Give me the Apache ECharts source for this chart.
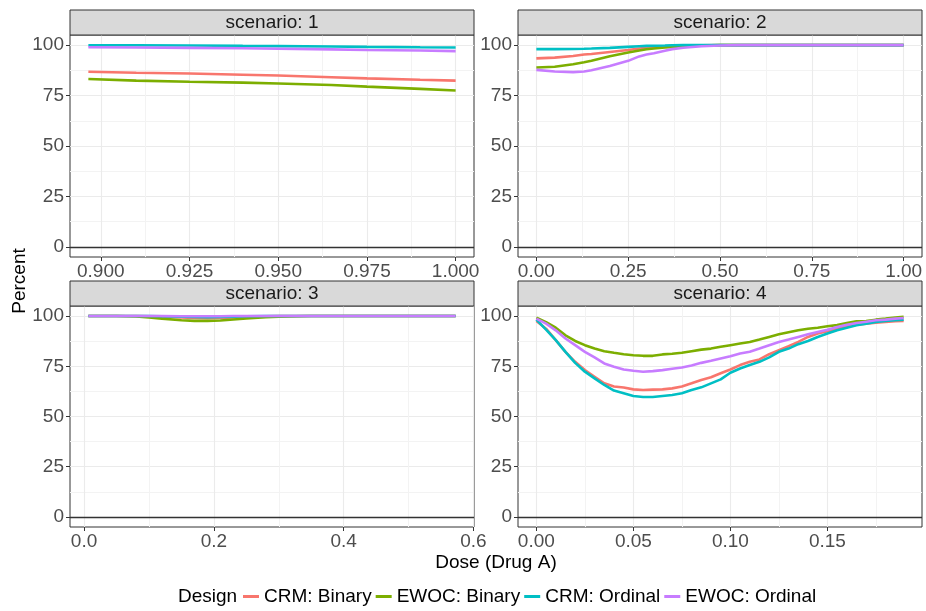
<!DOCTYPE html>
<html>
<head>
<meta charset="utf-8">
<script src="https://cdn.jsdelivr.net/npm/echarts@6/dist/echarts.min.js"></script>
<style>
  html, body { margin: 0; padding: 0; background: #fff; }
  #chart { width: 926px; height: 611px; }
</style>
</head>
<body>
<div id="chart"></div>
<script>
const designs = ['CRM: Binary', 'EWOC: Binary', 'CRM: Ordinal', 'EWOC: Ordinal']
const colors = ['#F8766D', '#7CAE00', '#00BFC4', '#C77CFF']
const strips = ['scenario: 1', 'scenario: 2', 'scenario: 3', 'scenario: 4']

// y ticks (shared)
const yMajor = [0, 25, 50, 75, 100]
const yMinor = [12.5, 37.5, 62.5, 87.5]

// scenario 1
const s1Dose = [0.8965, 0.91, 0.925, 0.94, 0.95, 0.965, 0.975, 0.99, 1.0]
const s1CrmBin = [86.8, 86.3, 85.9, 85.3, 84.9, 84.1, 83.5, 82.8, 82.4]
const s1EwocBin = [83.2, 82.4, 81.8, 81.4, 81.0, 80.2, 79.4, 78.3, 77.5]
const s1CrmOrd = [99.9, 99.9, 99.8, 99.6, 99.5, 99.3, 99.1, 98.9, 98.8]
const s1EwocOrd = [98.9, 98.8, 98.6, 98.4, 98.2, 97.9, 97.6, 97.3, 97.0]
const s1Ticks = [0.9, 0.925, 0.95, 0.975, 1.0]
const s1Minor = [0.9125, 0.9375, 0.9625, 0.9875]

// scenario 2
const s2Dose = [0, 0.05, 0.1, 0.13, 0.15, 0.2, 0.25, 0.28, 0.3, 0.32, 0.35, 0.37, 0.4, 0.45, 0.5, 0.55, 0.6, 0.7, 0.8, 0.9, 1.0]
const s2CrmBin = [93.4, 93.8, 94.6, 95.3, 95.6, 96.6, 97.6, 98.3, 98.7, 99.0, 99.4, 99.6, 99.8, 99.95, 100, 100, 100, 100, 100, 100, 100]
const s2EwocBin = [88.9, 89.3, 90.5, 91.5, 92.2, 94.5, 96.3, 97.3, 97.9, 98.3, 98.8, 99.1, 99.4, 99.8, 100, 100, 100, 100, 100, 100, 100]
const s2CrmOrd = [98.0, 98.0, 98.1, 98.2, 98.3, 98.6, 99.1, 99.4, 99.6, 99.7, 99.8, 99.9, 100, 100, 100, 100, 100, 100, 100, 100, 100]
const s2EwocOrd = [87.7, 86.9, 86.6, 86.9, 87.5, 89.6, 92.2, 94.4, 95.3, 96.0, 97.2, 98.0, 98.7, 99.4, 99.8, 100, 100, 100, 100, 100, 100]
const s2Ticks = [0, 0.25, 0.5, 0.75, 1.0]
const s2Minor = [0.125, 0.375, 0.625, 0.875]

// scenario 3
const s3Dose = [0.0066, 0.05, 0.08, 0.1, 0.12, 0.15, 0.17, 0.19, 0.21, 0.23, 0.25, 0.28, 0.3, 0.35, 0.4, 0.5, 0.5725]
const s3CrmBin = [100, 100, 100, 99.9, 99.7, 99.3, 99.0, 98.9, 99.0, 99.3, 99.6, 99.9, 100, 100, 100, 100, 100]
const s3EwocBin = [100, 100, 99.8, 99.3, 98.7, 97.9, 97.6, 97.6, 97.8, 98.3, 98.8, 99.4, 99.7, 100, 100, 100, 100]
const s3CrmOrd = [100, 100, 100, 100, 99.9, 99.7, 99.5, 99.4, 99.5, 99.7, 99.9, 100, 100, 100, 100, 100, 100]
const s3EwocOrd = [100, 100, 100, 100, 100, 99.9, 99.9, 99.9, 99.9, 100, 100, 100, 100, 100, 100, 100, 100]
const s3Ticks = [0, 0.2, 0.4, 0.6]
const s3Minor = [0.1, 0.3, 0.5]

// scenario 4
const s4Dose = [0, 0.005, 0.01, 0.015, 0.02, 0.025, 0.03, 0.035, 0.04, 0.045, 0.05, 0.055, 0.06, 0.065, 0.07, 0.075, 0.08, 0.085, 0.09, 0.095,
  0.1, 0.105, 0.11, 0.115, 0.12, 0.125, 0.13, 0.135, 0.14, 0.145, 0.15, 0.155, 0.16, 0.165, 0.17, 0.175, 0.18, 0.185, 0.1893]
const s4CrmBin = [97.5, 93.7, 88.0, 82.2, 77.2, 73.1, 69.8, 66.5, 64.9, 64.4, 63.5, 63.2, 63.4, 63.5, 64.0, 64.9, 66.5, 68.2, 69.5, 71.5,
  73.4, 75.6, 77.2, 78.4, 81.0, 83.0, 85.0, 87.1, 89.6, 91.3, 92.4, 93.7, 94.9, 95.7, 96.2, 96.7, 97.0, 97.4, 97.6]
const s4EwocBin = [99.2, 97.0, 94.2, 90.4, 87.6, 85.5, 83.8, 82.5, 81.7, 81.0, 80.5, 80.2, 80.2, 80.9, 81.2, 81.7, 82.5, 83.3, 83.8, 84.7,
  85.5, 86.3, 87.1, 88.3, 89.6, 90.9, 91.9, 92.9, 93.7, 94.2, 94.9, 95.5, 96.5, 97.4, 97.5, 98.2, 98.7, 99.3, 99.6]
const s4CrmOrd = [98.2, 93.2, 88.0, 82.2, 76.7, 72.3, 69.0, 65.7, 62.9, 61.6, 60.2, 59.7, 59.7, 60.2, 60.7, 61.6, 63.2, 64.5, 66.5, 68.5,
  71.8, 73.9, 75.6, 77.2, 79.4, 82.2, 83.8, 86.0, 87.6, 89.6, 91.3, 92.9, 94.2, 95.4, 96.2, 97.0, 97.5, 97.9, 98.2]
const s4EwocOrd = [98.7, 96.2, 92.9, 88.8, 85.5, 82.2, 79.4, 76.4, 74.8, 73.4, 72.8, 72.3, 72.6, 73.1, 73.8, 74.4, 75.4, 76.7, 77.7, 78.9,
  80.0, 81.4, 82.2, 83.8, 85.5, 87.1, 88.3, 89.6, 90.9, 92.1, 93.2, 94.6, 95.7, 96.5, 97.2, 97.9, 98.2, 98.7, 99.0]
const s4Ticks = [0, 0.05, 0.1, 0.15]
const s4Minor = [0.025, 0.075, 0.125, 0.175]

const FONT = '"Liberation Sans", Arial, sans-serif'
const FS = 19

const panels = [
  { dose: s1Dose, ys: [s1CrmBin, s1EwocBin, s1CrmOrd, s1EwocOrd], ticks: s1Ticks, minor: s1Minor, digits: 3 },
  { dose: s2Dose, ys: [s2CrmBin, s2EwocBin, s2CrmOrd, s2EwocOrd], ticks: s2Ticks, minor: s2Minor, digits: 2 },
  { dose: s3Dose, ys: [s3CrmBin, s3EwocBin, s3CrmOrd, s3EwocOrd], ticks: s3Ticks, minor: s3Minor, digits: 1 },
  { dose: s4Dose, ys: [s4CrmBin, s4EwocBin, s4CrmOrd, s4EwocOrd], ticks: s4Ticks, minor: s4Minor, digits: 2 }
]

// panel boxes in pixels
const boxes = [
  { left: 70, top: 35, width: 404, height: 222 },
  { left: 518, top: 35, width: 404, height: 222 },
  { left: 70, top: 306, width: 404, height: 221 },
  { left: 518, top: 306, width: 404, height: 221 }
]
const STRIP_H = 25

const chart = echarts.init(document.getElementById('chart'))

const grids = []
const xAxes = []
const yAxes = []
const series = []
const graphics = []

// minor grid axis: only split lines
const minorAxis = (gridIndex, min, max, values, position) => ({
  type: 'value', gridIndex, min, max, position,
  axisLine: { show: false, onZero: false },
  axisTick: { show: false, length: 0, customValues: values, lineStyle: { color: 'rgba(0,0,0,0)', width: 0 } },
  axisLabel: { show: false, customValues: values },
  splitLine: { show: true, lineStyle: { color: '#F3F3F3', width: 1 } }
})

panels.forEach((p, i) => {
  const b = boxes[i]
  grids.push({
    left: b.left, top: b.top, width: b.width, height: b.height,
    show: true, backgroundColor: '#fff', borderColor: '#333333', borderWidth: 1,
    containLabel: false, outerBoundsMode: 'none'
  })

  // ggplot style 5% expansion
  const lo = Math.min(...p.dose)
  const hi = Math.max(...p.dose)
  const pad = (hi - lo) * 0.05
  const xmin = lo - pad
  const xmax = hi + pad

  xAxes.push({
    type: 'value', gridIndex: i, min: xmin, max: xmax, position: 'bottom',
    axisLine: { show: false, onZero: false },
    axisTick: { show: true, length: 4, customValues: p.ticks, lineStyle: { color: '#333333', width: 1 } },
    axisLabel: {
      customValues: p.ticks, formatter: v => v.toFixed(p.digits),
      color: '#4D4D4D', fontSize: FS, fontFamily: FONT, margin: 5
    },
    splitLine: { show: true, lineStyle: { color: '#EBEBEB', width: 1.1 } }
  })
  xAxes.push(minorAxis(i, xmin, xmax, p.minor, 'top'))

  yAxes.push({
    type: 'value', gridIndex: i, min: -5, max: 105, position: 'left',
    axisLine: { show: false, onZero: false },
    axisTick: { show: true, length: 4, customValues: yMajor, lineStyle: { color: '#333333', width: 1 } },
    axisLabel: { customValues: yMajor, color: '#4D4D4D', fontSize: FS, fontFamily: FONT, margin: 6 },
    splitLine: { show: true, lineStyle: { color: '#EBEBEB', width: 1.1 } }
  })
  yAxes.push(minorAxis(i, -5, 105, yMinor, 'right'))

  p.ys.forEach((ys, k) => {
    const s = {
      name: designs[k],
      type: 'line',
      xAxisIndex: i * 2,
      yAxisIndex: i * 2,
      data: p.dose.map((x, j) => [x, ys[j]]),
      showSymbol: false,
      symbol: 'none',
      z: 3 + k,
      lineStyle: { color: colors[k], width: 2.6 },
      itemStyle: { color: colors[k] },
      emphasis: { disabled: true }
    }
    if (k === 0) {
      // black reference line at 0
      s.markLine = {
        silent: true, symbol: 'none', animation: false,
        label: { show: false },
        lineStyle: { color: '#333333', type: 'solid', width: 1.3 },
        data: [{ yAxis: 0 }]
      }
    }
    series.push(s)
  })

  // strip header
  graphics.push({
    type: 'rect',
    shape: { x: b.left, y: b.top - STRIP_H, width: b.width, height: STRIP_H },
    style: { fill: '#D9D9D9', stroke: '#333333', lineWidth: 1 },
    z: 10
  })
  graphics.push({
    type: 'text',
    x: b.left + b.width / 2,
    y: b.top - STRIP_H / 2,
    style: {
      text: strips[i], fill: '#1A1A1A', font: FS + 'px ' + FONT,
      textAlign: 'center', textVerticalAlign: 'middle'
    },
    z: 11
  })
})

// axis titles + legend title
graphics.push({
  type: 'text', x: 20, y: 281, rotation: Math.PI / 2,
  style: { text: 'Percent', fill: '#000', font: FS + 'px ' + FONT, textAlign: 'center', textVerticalAlign: 'middle' }
})
graphics.push({
  type: 'text', x: 496, y: 563,
  style: { text: 'Dose (Drug A)', fill: '#000', font: FS + 'px ' + FONT, textAlign: 'center', textVerticalAlign: 'middle' }
})
graphics.push({
  type: 'text', x: 178, y: 597,
  style: { text: 'Design', fill: '#000', font: FS + 'px ' + FONT, textAlign: 'left', textVerticalAlign: 'middle' }
})

chart.setOption({
  animation: false,
  backgroundColor: '#fff',
  grid: grids,
  xAxis: xAxes,
  yAxis: yAxes,
  series: series,
  legend: {
    data: designs,
    left: 243,
    top: 587,
    padding: 0,
    icon: 'rect',
    itemWidth: 16,
    itemHeight: 3,
    itemGap: 4,
    textStyle: { color: '#000', fontSize: FS, fontFamily: FONT },
    selectedMode: false
  },
  graphic: graphics
})

window.addEventListener('resize', () => chart.resize())
</script>
</body>
</html>
